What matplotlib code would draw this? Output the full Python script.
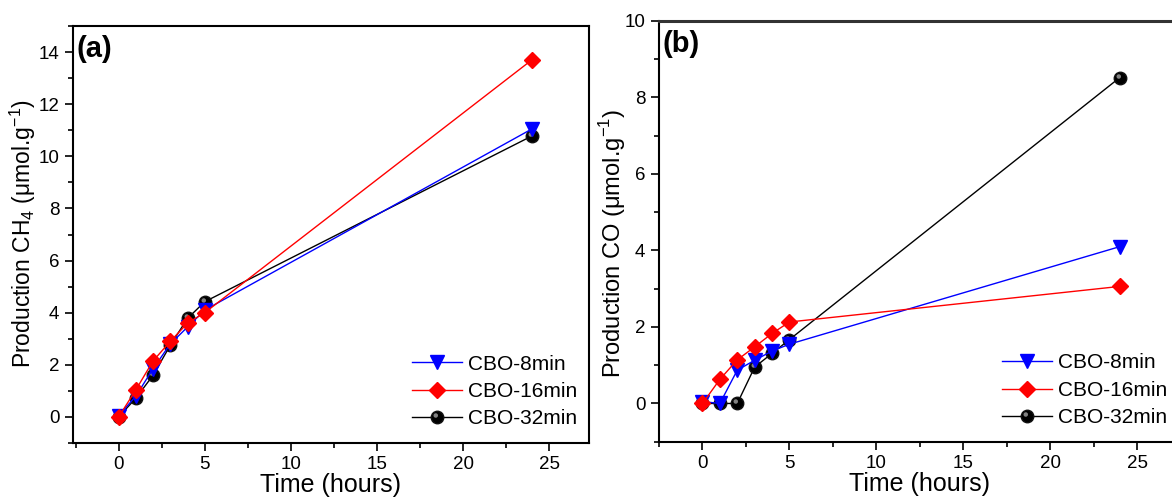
import matplotlib
matplotlib.use("Agg")
import matplotlib.pyplot as plt
from matplotlib.ticker import MultipleLocator
from matplotlib.path import Path
from matplotlib.legend_handler import HandlerTuple

plt.rcParams['font.family'] = ['Liberation Sans', 'DejaVu Sans']
plt.rcParams['mathtext.fontset'] = 'custom'
plt.rcParams['mathtext.rm'] = 'Liberation Sans'

time_h = [0, 1, 2, 3, 4, 5, 24]

ch4_8min = [0.05, 0.8, 1.85, 2.8, 3.45, 4.1, 11.05]
ch4_16min = [0.0, 1.04, 2.15, 2.9, 3.6, 4.0, 13.7]
ch4_32min = [0.0, 0.72, 1.6, 2.75, 3.78, 4.42, 10.78]

co_8min = [0.05, 0.0, 0.87, 1.13, 1.37, 1.55, 4.1]
co_16min = [0.0, 0.63, 1.14, 1.48, 1.83, 2.13, 3.06]
co_32min = [0.0, 0.0, 0.0, 0.95, 1.31, 1.67, 8.52]

labels = ['CBO-8min', 'CBO-16min', 'CBO-32min']

# sphere highlight marker (offset small circle inside a unit box)
_hl = Path.circle(center=(-0.28, 0.32), radius=0.36)
_box = Path([(1, 1), (1, 1), (-1, -1), (-1, -1)],
            [Path.MOVETO, Path.LINETO, Path.MOVETO, Path.LINETO])
hl_marker = Path.make_compound_path(_hl, _box)

fig = plt.figure(figsize=(11.72, 4.98), dpi=100)
axA = fig.add_axes([0.062, 0.1104, 0.5026 - 0.062, 0.9478 - 0.1104])
axB = fig.add_axes([0.562, 0.113, 1.0074 - 0.562, 0.958 - 0.113])

def draw(ax, s8, s16, s32, xlim, ylim, ylabel, ylsize, ylcoords, tag, leg_anchor):
    l32, = ax.plot(time_h, s32, color='black', lw=1.0, marker='o', ms=9,
                   mfc='black', mec='#111111', zorder=2)
    h32, = ax.plot(time_h, s32, ls='none', marker=hl_marker, ms=9,
                   mfc='#9a9a9a', mew=0, alpha=0.85, zorder=2.5)
    l8, = ax.plot(time_h, s8, color='blue', lw=1.0, marker='v', ms=10,
                  mfc='blue', mec='blue', zorder=3)
    l16, = ax.plot(time_h, s16, color='red', lw=1.0, marker='D', ms=8.5,
                   mfc='red', mec='red', zorder=4)
    ax.set_xlim(*xlim)
    ax.set_ylim(*ylim)
    ax.xaxis.set_major_locator(MultipleLocator(5))
    ax.xaxis.set_minor_locator(MultipleLocator(2.5))
    ax.yaxis.set_major_locator(MultipleLocator(2))
    ax.yaxis.set_minor_locator(MultipleLocator(1))
    ax.tick_params(which='major', direction='out', length=6, width=1.2,
                   labelsize=13.5, top=False, right=False)
    ax.tick_params(which='minor', direction='out', length=3.5, width=1.2,
                   top=False, right=False)
    for sp in ax.spines.values():
        sp.set_linewidth(1.5)
    ax.set_xlabel('Time (hours)', fontsize=18, labelpad=0)
    ax.set_ylabel(ylabel, fontsize=ylsize)
    ax.yaxis.label.set_va('center')
    ax.yaxis.set_label_coords(*ylcoords)
    ax.text(0.008, 0.978, tag, transform=ax.transAxes, ha='left', va='top',
            fontsize=21, fontweight='bold')
    ax.legend([l8, l16, (l32, h32)], labels, loc='lower right', frameon=False,
              fontsize=15, handlelength=2.4, handletextpad=0.3,
              labelspacing=0.4, borderaxespad=0.3,
              bbox_to_anchor=leg_anchor,
              handler_map={tuple: HandlerTuple(ndivide=1, pad=0)})

draw(axA, ch4_8min, ch4_16min, ch4_32min, (-2.67, 27.32), (-1, 15),
     r'Production CH$_4$ ($\mathrm{\mu}$mol.g$^{-1}$)', 16.5, (-0.097, 0.502),
     '(a)', (1.005, 0.0))
draw(axB, co_8min, co_16min, co_32min, (-2.52, 27.5), (-1, 10),
     r'Production CO ($\mathrm{\mu}$mol.g$^{-1}$)', 17, (-0.088, 0.47),
     '(b)', (1.003, 0.0))
axB.spines['top'].set_color('#333333')
axB.spines['top'].set_linewidth(2.2)

fig.savefig('out.png', dpi=100)
